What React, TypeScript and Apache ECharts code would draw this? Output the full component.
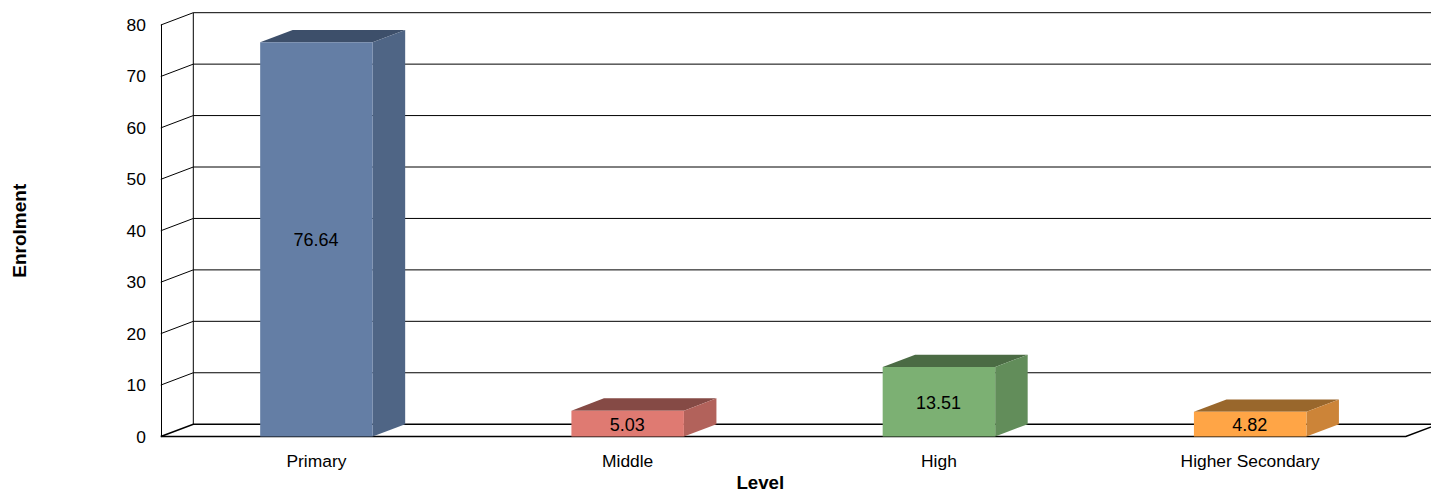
import React, { useEffect, useRef } from "react";
import * as echarts from "echarts";

const categories = ["Primary", "Middle", "High", "Higher Secondary"];
const enrolment = [76.64, 5.03, 13.51, 4.82];
const yTicks = [0, 10, 20, 30, 40, 50, 60, 70, 80];
const frontColors = ["#647ea5", "#df7a72", "#7cb073", "#ffa546"];
const sideColors = ["#4f6585", "#b2625b", "#628d5a", "#cc8438"];
const topColors = ["#3d4f6a", "#854a45", "#4b6b44", "#99672c"];

const DX = 32.5;
const DY = 12.3;
const BAR_W = 112.5;
const FONT = '"Liberation Sans", Arial, sans-serif';

function renderWall(params: any, api: any) {
  const cs = params.coordSys;
  const v = api.value(0);
  const y = api.coord([0, v])[1];
  const children: any[] = [
    {
      type: "polyline",
      shape: { points: [[cs.x, y], [cs.x + DX, y - DY], [1440, y - DY]] },
      style: { stroke: "#000", lineWidth: v === 0 ? 1.5 : 1, fill: "none" },
    },
  ];
  if (v === 0) {
    const top = api.coord([0, yTicks[yTicks.length - 1]])[1];
    children.push(
      {
        type: "polyline",
        shape: { points: [[cs.x, y], [cs.x + cs.width, y], [cs.x + cs.width + DX, y - DY]] },
        style: { stroke: "#000", lineWidth: 1.5, fill: "none" },
      },
      {
        type: "line",
        shape: { x1: cs.x + DX, y1: y - DY, x2: cs.x + DX, y2: top - DY },
        style: { stroke: "#000", lineWidth: 1 },
      }
    );
  }
  return { type: "group", children };
}

function renderBar(params: any, api: any) {
  const i = params.dataIndex;
  const value = api.value(1);
  const [cx, yv] = api.coord([api.value(0), value]);
  const y0 = api.coord([api.value(0), 0])[1];
  const xl = cx - BAR_W / 2;
  const xr = cx + BAR_W / 2;
  return {
    type: "group",
    children: [
      {
        type: "polygon",
        shape: { points: [[xl, yv], [xl + DX, yv - DY], [xr + DX, yv - DY], [xr, yv]] },
        style: { fill: topColors[i] },
      },
      {
        type: "polygon",
        shape: { points: [[xr, y0], [xr + DX, y0 - DY], [xr + DX, yv - DY], [xr, yv]] },
        style: { fill: sideColors[i] },
      },
      {
        type: "rect",
        shape: { x: xl, y: yv, width: BAR_W, height: y0 - yv },
        style: { fill: frontColors[i] },
      },
      {
        type: "text",
        style: {
          x: cx - 0.5,
          y: (yv + y0) / 2 + 1,
          text: value.toFixed(2),
          align: "center",
          verticalAlign: "middle",
          fill: "#000",
          font: `18px ${FONT}`,
        },
      },
    ],
  };
}

export default function App() {
  const ref = useRef<HTMLDivElement>(null);
  useEffect(() => {
    document.body.style.margin = "0";
    document.body.style.overflow = "hidden";
    const chart = echarts.init(ref.current!, undefined, { renderer: "svg" });
    chart.setOption({
      animation: false,
      backgroundColor: "#fff",
      grid: { left: 160.8, right: 25.2, top: 25, bottom: 54.5, outerBoundsMode: "none" },
      xAxis: {
        type: "category",
        data: categories,
        name: "Level",
        nameLocation: "middle",
        nameMoveOverlap: false,
        nameGap: 38.5,
        nameTextStyle: {
          fontFamily: FONT,
          fontSize: 18.7,
          lineHeight: 14,
          fontWeight: "bold",
          color: "#000",
          padding: [0, 46, 0, 0],
        },
        axisLine: { show: false },
        axisTick: { show: false },
        axisLabel: { fontFamily: FONT, fontSize: 17.4, color: "#000", margin: 16 },
      },
      yAxis: {
        type: "value",
        min: 0,
        max: 80,
        interval: 10,
        name: "Enrolment",
        nameLocation: "middle",
        nameGap: 132,
        nameTextStyle: { fontFamily: FONT, fontSize: 19, fontWeight: "bold", color: "#000" },
        axisLine: { show: true, lineStyle: { color: "#000", width: 1 } },
        axisTick: { show: false },
        splitLine: { show: false },
        axisLabel: { fontFamily: FONT, fontSize: 17.4, color: "#000", margin: 15 },
      },
      series: [
        {
          type: "custom",
          name: "walls",
          renderItem: renderWall,
          data: yTicks.map((t) => [t]),
          encode: { y: 0 },
          silent: true,
          z: 1,
        },
        {
          type: "custom",
          name: "Enrolment",
          renderItem: renderBar,
          data: enrolment.map((v, i) => [i, v]),
          encode: { x: 0, y: 1 },
          z: 2,
        },
      ],
    });
    return () => chart.dispose();
  }, []);
  return <div ref={ref} style={{ width: 1431, height: 491 }} />;
}
